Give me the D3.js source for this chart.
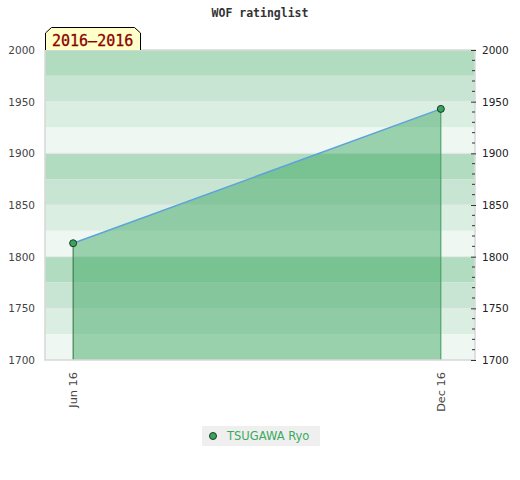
<!DOCTYPE html>
<html>
<head>
<meta charset="utf-8">
<script src="https://cdn.jsdelivr.net/npm/d3@7"></script>
<style>
  body { margin: 0; background: #fff; }
  text { font-family: "DejaVu Sans", sans-serif; }
</style>
</head>
<body>
<script>
// chart data
var dates   = ["2016-06-01", "2016-12-01"];
var ratings = [1813, 1943];
var xLabels = ["Jun 16", "Dec 16"];
var yTicks  = [1700, 1750, 1800, 1850, 1900, 1950, 2000];
var player  = "TSUGAWA Ryo";
var period  = "2016\u20132016";
var title   = "WOF ratinglist";

var width  = 520;
var height = 480;
// plot box (note: "top" is reserved on window, so use plot* names)
var plotL = 45, plotR = 475, plotT = 50, plotB = 360;

var parse = d3.timeParse("%Y-%m-%d");
var points = dates.map(function(d, i) { return { date: parse(d), value: ratings[i] }; });

var x = d3.scaleTime()
          .domain([parse("2016-05-18"), parse("2016-12-18")])
          .range([plotL, plotR]);
var y = d3.scaleLinear()
          .domain([1700, 2000])
          .range([plotB, plotT]);

var svg = d3.select("body").append("svg")
            .attr("width", width)
            .attr("height", height);

// background bands, 4 shades per 100 points
var bandColors = ["#b2dcc0", "#c8e4d2", "#dbeee2", "#eef7f1"];
var bands = d3.range(2000, 1700, -25);
svg.selectAll("rect.band")
   .data(bands)
   .enter().append("rect")
     .attr("class", "band")
     .attr("x", plotL)
     .attr("y", function(d) { return y(d); })
     .attr("width", plotR - plotL)
     .attr("height", function(d) { return y(d - 25) - y(d); })
     .style("fill", function(d, i) { return bandColors[i % 4]; });

// faint grid lines
svg.selectAll("line.grid")
   .data(yTicks.slice(1, -1))
   .enter().append("line")
     .attr("x1", plotL).attr("x2", plotR)
     .attr("y1", function(d) { return y(d); })
     .attr("y2", function(d) { return y(d); })
     .style("stroke", "#e4e8e6")
     .style("stroke-width", 1);

// area under the rating line
var area = d3.area()
             .x(function(d) { return x(d.date); })
             .y0(plotB)
             .y1(function(d) { return y(d.value); });
svg.append("path")
   .datum(points)
   .attr("d", area)
   .style("fill", "rgb(51,162,90)")
   .style("fill-opacity", 0.45);

// vertical edges of the area
svg.selectAll("line.edge")
   .data([points[0], points[points.length - 1]])
   .enter().append("line")
     .attr("x1", function(d) { return x(d.date); })
     .attr("x2", function(d) { return x(d.date); })
     .attr("y1", function(d) { return y(d.value); })
     .attr("y2", plotB)
     .style("stroke", function(d, i) { return i === 0 ? "#2f6e42" : "#3c9a5c"; })
     .style("stroke-width", 1);

var line = d3.line()
             .x(function(d) { return x(d.date); })
             .y(function(d) { return y(d.value); });
svg.append("path")
   .datum(points)
   .attr("d", line)
   .style("fill", "none")
   .style("stroke", "#5ba3d9")
   .style("stroke-width", 1.5);

svg.selectAll("circle.pt")
   .data(points)
   .enter().append("circle")
     .attr("cx", function(d) { return x(d.date); })
     .attr("cy", function(d) { return y(d.value); })
     .attr("r", 3.5)
     .style("fill", "#3aa35e")
     .style("stroke", "#1c3b26")
     .style("stroke-width", 1);

// plot frame
svg.append("path")
   .attr("d", "M" + plotL + "," + plotT + "V" + plotB + "H" + plotR + "V" + plotT + "H" + plotL)
   .style("fill", "none")
   .style("stroke", "#d8d8d8")
   .style("stroke-width", 1.5);

// left axis labels
var leftAxis = d3.axisLeft(y).tickValues(yTicks).tickFormat(d3.format("d"))
                 .tickSize(0).tickPadding(10);
svg.append("g")
   .attr("transform", "translate(" + plotL + ",0)")
   .call(leftAxis)
   .call(function(g) { g.select(".domain").remove(); })
   .selectAll("text")
     .style("font-size", "10.5px")
     .style("fill", "#444");

// right axis with minor ticks
var minor = d3.range(1700, 2001, 10).filter(function(v) { return v % 50 !== 0; });
svg.selectAll("line.minor")
   .data(minor)
   .enter().append("line")
     .attr("x1", plotR - 3).attr("x2", plotR)
     .attr("y1", function(d) { return y(d); })
     .attr("y2", function(d) { return y(d); })
     .style("stroke", "#333");
var rightAxis = d3.axisRight(y).tickValues(yTicks).tickFormat(d3.format("d"))
                  .tickSizeInner(-5).tickSizeOuter(0).tickPadding(6);
svg.append("g")
   .attr("transform", "translate(" + (plotR + 1) + ",0)")
   .call(rightAxis)
   .call(function(g) { g.select(".domain").remove(); })
   .call(function(g) { g.selectAll("line").style("stroke", "#333"); })
   .selectAll("text")
     .style("font-size", "10.5px")
     .style("fill", "#222");

// bottom labels, rotated
svg.selectAll("text.xlab")
   .data(points)
   .enter().append("text")
     .attr("class", "xlab")
     .attr("transform", function(d) { return "translate(" + (x(d.date) + 4) + "," + (plotB + 12) + ") rotate(-90)"; })
     .attr("text-anchor", "end")
     .style("font-size", "11.3px")
     .style("fill", "#444")
     .text(function(d, i) { return xLabels[i]; });

// title
svg.append("text")
   .attr("x", 260)
   .attr("y", 17)
   .attr("text-anchor", "middle")
   .style("font-family", "'DejaVu Sans Mono', monospace")
   .style("font-weight", "bold")
   .style("font-size", "11.5px")
   .style("fill", "#333")
   .text(title);

// period tag
svg.append("path")
   .attr("d", "M45.5,50V33L51.5,27.5H134.5L140.5,33V50")
   .style("fill", "#ffffc8")
   .style("stroke", "#000")
   .style("stroke-width", 1);
svg.append("text")
   .attr("x", 52)
   .attr("y", 46)
   .style("font-family", "'DejaVu Sans Mono', monospace")
   .style("font-size", "15px")
   .style("stroke", "#8b0000")
   .style("stroke-width", 0.3)
   .style("fill", "#8b0000")
   .text(period);

// legend
svg.append("rect")
   .attr("x", 202).attr("y", 426)
   .attr("width", 118).attr("height", 20)
   .style("fill", "#efefef");
svg.append("circle")
   .attr("cx", 213).attr("cy", 436).attr("r", 3.5)
   .style("fill", "#3aa35e")
   .style("stroke", "#1c3b26");
svg.append("text")
   .attr("x", 227).attr("y", 440)
   .style("font-size", "11.5px")
   .style("fill", "#3aaa5e")
   .text(player);
</script>
</body>
</html>
